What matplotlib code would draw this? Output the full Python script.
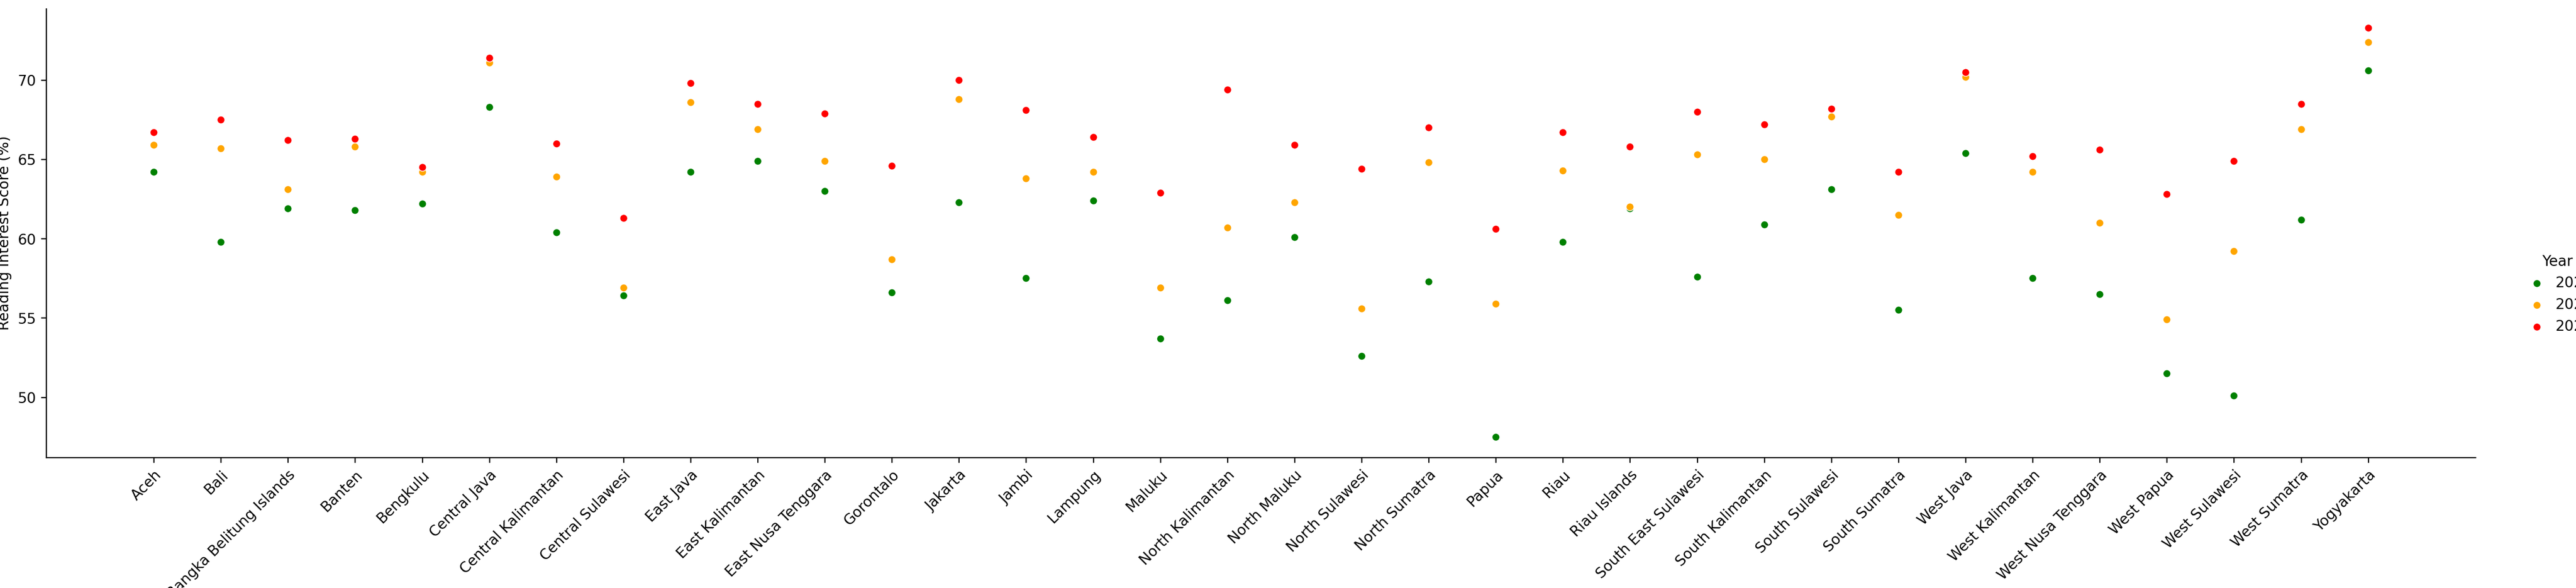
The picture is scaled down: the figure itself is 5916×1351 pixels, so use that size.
import matplotlib.pyplot as plt

provinces = ['Aceh', 'Bali', 'Bangka Belitung Islands', 'Banten', 'Bengkulu', 'Central Java',
             'Central Kalimantan', 'Central Sulawesi', 'East Java', 'East Kalimantan',
             'East Nusa Tenggara', 'Gorontalo', 'Jakarta', 'Jambi', 'Lampung', 'Maluku',
             'North Kalimantan', 'North Maluku', 'North Sulawesi', 'North Sumatra', 'Papua',
             'Riau', 'Riau Islands', 'South East Sulawesi', 'South Kalimantan',
             'South Sulawesi', 'South Sumatra', 'West Java', 'West Kalimantan',
             'West Nusa Tenggara', 'West Papua', 'West Sulawesi', 'West Sumatra', 'Yogyakarta']

score_2021 = [64.2, 59.8, 61.9, 61.8, 62.2, 68.3, 60.4, 56.4, 64.2, 64.9, 63.0, 56.6, 62.3, 57.5,
              62.4, 53.7, 56.1, 60.1, 52.6, 57.3, 47.5, 59.8, 61.9, 57.6, 60.9, 63.1, 55.5,
              65.4, 57.5, 56.5, 51.5, 50.1, 61.2, 70.6]
score_2022 = [65.9, 65.7, 63.1, 65.8, 64.2, 71.1, 63.9, 56.9, 68.6, 66.9, 64.9, 58.7, 68.8, 63.8,
              64.2, 56.9, 60.7, 62.3, 55.6, 64.8, 55.9, 64.3, 62.0, 65.3, 65.0, 67.7, 61.5,
              70.2, 64.2, 61.0, 54.9, 59.2, 66.9, 72.4]
score_2023 = [66.7, 67.5, 66.2, 66.3, 64.5, 71.4, 66.0, 61.3, 69.8, 68.5, 67.9, 64.6, 70.0, 68.1,
              66.4, 62.9, 69.4, 65.9, 64.4, 67.0, 60.6, 66.7, 65.8, 68.0, 67.2, 68.2, 64.2,
              70.5, 65.2, 65.6, 62.8, 64.9, 68.5, 73.3]

years = ['2021', '2022', '2023']
series = [score_2021, score_2022, score_2023]
colors = ['green', 'orange', 'red']

fig = plt.figure(figsize=(24.65, 5.63), dpi=240)
ax = fig.add_axes([0.018, 0.222, 0.943, 0.763])

x = range(len(provinces))
for yr, vals, c in zip(years, series, colors):
    ax.scatter(x, vals, s=28, color=c, label=yr, edgecolors='white', linewidths=0.5, zorder=3)

ax.set_xticks(list(x))
ax.set_xticklabels(provinces, rotation=45, ha='right', rotation_mode='anchor')
ax.set_xlim(-1.6, 34.6)
ax.set_ylim(46.2, 74.5)
ax.set_xlabel('Province')
ax.set_ylabel('Reading Interest Score (%)')
ax.spines['top'].set_visible(False)
ax.spines['right'].set_visible(False)

fig.legend(title='Year', loc='center left', bbox_to_anchor=(0.974, 0.5), frameon=False,
           handletextpad=0.3)

fig.savefig('out.png', dpi=240)
